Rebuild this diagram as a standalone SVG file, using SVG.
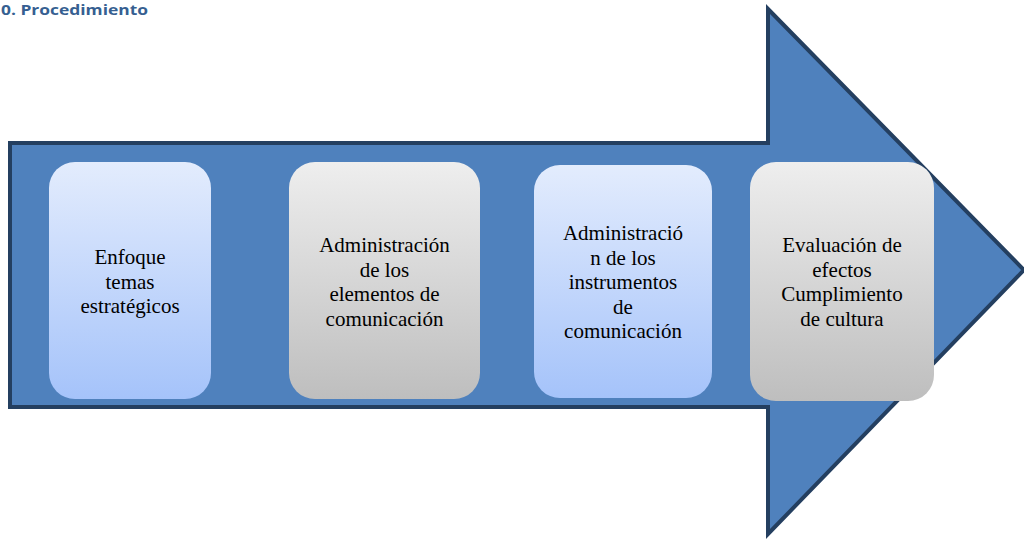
<svg xmlns="http://www.w3.org/2000/svg" width="1024" height="540" viewBox="0 0 1024 540">
<defs>
<linearGradient id="gBlue" x1="0" y1="0" x2="0" y2="1">
<stop offset="0" stop-color="#E3ECFD"/>
<stop offset="1" stop-color="#A5C3FA"/>
</linearGradient>
<linearGradient id="gGray" x1="0" y1="0" x2="0" y2="1">
<stop offset="0" stop-color="#EEEEEE"/>
<stop offset="1" stop-color="#BEBEBE"/>
</linearGradient>
</defs>
<style>
.lbl{font-family:'Liberation Serif','DejaVu Serif',serif;font-size:21px;fill:#000;text-anchor:middle}
.title{font-family:'Open Sans','Liberation Sans',sans-serif;font-weight:bold;font-size:15px;fill:#365F91}
</style>
<rect width="1024" height="540" fill="#FFFFFF"/>
<text class="title" x="1" y="15" textLength="147" lengthAdjust="spacingAndGlyphs">0. Procedimiento</text>
<g id="arrow">
<path d="M10,143 L768,143 L768,9 L1024,270 L768,534 L768,407 L10,407 Z" fill="#4F81BD" stroke="#243F60" stroke-width="4" stroke-linejoin="miter"/>
</g>
<g id="connectors"></g>
<g id="node1">
<rect x="49" y="162" width="162" height="237" rx="26" fill="url(#gBlue)"/>
<text class="lbl" font-family="Liberation Serif, serif"><tspan x="130" y="264">Enfoque</tspan><tspan x="130" y="288.5">temas</tspan><tspan x="130" y="313">estratégicos</tspan></text>
</g>
<g id="node2">
<rect x="289" y="162" width="191" height="237" rx="26" fill="url(#gGray)"/>
<text class="lbl" font-family="Liberation Serif, serif"><tspan x="384.5" y="252">Administración</tspan><tspan x="384.5" y="276.5">de los</tspan><tspan x="384.5" y="301">elementos de</tspan><tspan x="384.5" y="325.5">comunicación</tspan></text>
</g>
<g id="node3">
<rect x="534" y="165" width="178" height="233" rx="26" fill="url(#gBlue)"/>
<text class="lbl" font-family="Liberation Serif, serif"><tspan x="623" y="240">Administració</tspan><tspan x="623" y="264.5">n de los</tspan><tspan x="623" y="289">instrumentos</tspan><tspan x="623" y="313.5">de</tspan><tspan x="623" y="338">comunicación</tspan></text>
</g>
<g id="node4">
<rect x="750" y="162" width="184" height="239" rx="26" fill="url(#gGray)"/>
<text class="lbl" font-family="Liberation Serif, serif"><tspan x="842" y="252">Evaluación de</tspan><tspan x="842" y="276.5">efectos</tspan><tspan x="842" y="301">Cumplimiento</tspan><tspan x="842" y="325.5">de cultura</tspan></text>
</g>
</svg>
